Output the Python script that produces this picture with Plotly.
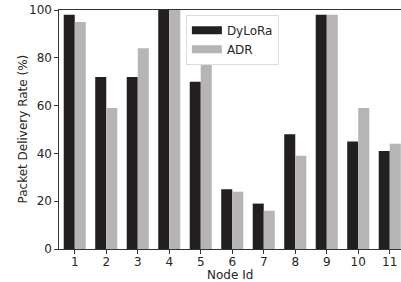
import plotly.graph_objects as go

nodes = [1, 2, 3, 4, 5, 6, 7, 8, 9, 10, 11]
dylora = [98, 72, 72, 100, 70, 25, 19, 48, 98, 45, 41]
adr = [95, 59, 84, 100, 80, 24, 16, 39, 98, 59, 44]
y_ticks = [0, 20, 40, 60, 80, 100]

DARK = "#231f20"
LIGHT = "#b5b5b5"

fig = go.Figure()
fig.add_trace(go.Bar(x=nodes, y=dylora, name="DyLoRa", showlegend=False,
                     marker=dict(color=DARK, line=dict(width=0))))
fig.add_trace(go.Bar(x=nodes, y=adr, name="ADR", showlegend=False,
                     marker=dict(color=LIGHT, line=dict(width=0))))
# legend keys drawn as wide flat patches
fig.add_trace(go.Scatter(x=[None], y=[None], mode="lines", name="DyLoRa",
                         line=dict(color=DARK, width=8)))
fig.add_trace(go.Scatter(x=[None], y=[None], mode="lines", name="ADR",
                         line=dict(color=LIGHT, width=8)))

fig.update_layout(
    width=401, height=282,
    margin=dict(l=59, r=0, t=10, b=33, autoexpand=False),
    barmode="group", bargap=0.3, bargroupgap=0,
    plot_bgcolor="white", paper_bgcolor="white",
    font=dict(family="DejaVu Sans", size=12, color="#262626"),
    legend=dict(x=0.371, y=0.98, xanchor="left", yanchor="top",
                bordercolor="#dddddd", borderwidth=1, bgcolor="white",
                font=dict(size=12), itemwidth=30, tracegroupgap=0),
    showlegend=True,
    annotations=[
        dict(text="Node Id", xref="paper", yref="paper", x=0.5, y=0,
             xanchor="center", yanchor="middle", yshift=-26, showarrow=False,
             font=dict(size=12, color="#262626")),
        dict(text="Packet Delivery Rate (%)", xref="paper", yref="paper", x=0, y=0.5,
             xanchor="center", yanchor="middle", xshift=-37, textangle=-90, showarrow=False,
             font=dict(size=12, color="#262626")),
    ],
)
fig.update_xaxes(
    range=[0.5, 11.357], tickmode="array", tickvals=nodes, ticktext=[str(n) for n in nodes],
    showline=True, linecolor="#333333", linewidth=1.2, mirror=True,
    ticks="outside", ticklen=3.5, tickcolor="#333333", showgrid=False, automargin=False,
    ticklabelstandoff=-2,
)
fig.update_yaxes(
    range=[0, 100], tickvals=y_ticks, showline=True, linecolor="#333333", linewidth=1.2,
    ticks="outside", ticklen=3.5, tickcolor="#333333", showgrid=False, zeroline=False, automargin=False,
)
fig.write_html("out.html", config={"displayModeBar": False},
               post_script="document.body.style.margin='0';document.body.style.overflow='hidden';")
